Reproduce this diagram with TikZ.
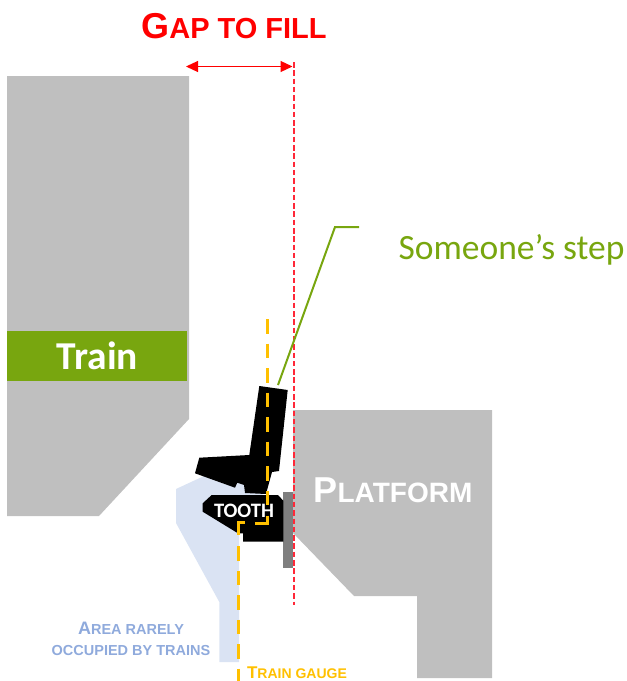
\documentclass[tikz,border=0pt]{standalone}
\usepackage{fontspec}
\setmainfont{Carlito}
\newfontfamily\capsfont{Liberation Sans}
\usetikzlibrary{arrows.meta}
\definecolor{shell}{HTML}{BFBFBF}
\definecolor{trainGreen}{HTML}{78A60F}
\definecolor{softBlue}{HTML}{DAE3F3}
\definecolor{labelBlue}{HTML}{8FAADC}
\definecolor{gauge}{HTML}{FFC000}
\definecolor{barGrey}{HTML}{7F7F7F}
\definecolor{edgeRose}{HTML}{FF2838}
\newcommand{\fcaps}[4]{{\capsfont\bfseries\fontsize{#1}{#1}\selectfont #3\fontsize{#2}{#2}\selectfont #4}}
\tikzset{
  solidpart/.style={fill=shell,draw=none},
  blackpart/.style={fill=black,draw=none},
  gaugedash/.style={draw=gauge,line width=3pt,dash pattern=on 14.5pt off 10pt},
  gaugesolid/.style={draw=gauge,line width=3pt},
  edgeguide/.style={draw=edgeRose,line width=2pt,dash pattern=on 5.5pt off 2.8pt},
  gaparrow/.style={draw=red,line width=1.2pt,{Triangle[length=12pt,width=11pt]}-{Triangle[length=12pt,width=11pt]}},
  leader/.style={draw=trainGreen,line width=2pt},
  lbl/.style={inner sep=0pt,align=center,font=\bfseries}
}
\begin{document}
\begin{tikzpicture}[x=1pt,y=-1pt]
\useasboundingbox (0,0) rectangle (627,681);
% train and platform
\fill[solidpart] (7,76) -- (189,76) -- (189,419) -- (99,516) -- (7,516) -- cycle;
\fill[trainGreen] (7,331) rectangle (187,381);
\fill[solidpart] (293,410) -- (492,410) -- (492,678) -- (417,678) -- (417,596) -- (354,596) -- (293,533) -- cycle;
% rarely occupied area
\fill[softBlue] (204,476) -- (176,489) -- (176,523) -- (219.3,602) -- (219.3,662) -- (239,662) -- (239,530) -- (262,496) -- (267,480) -- cycle;
% grey bar
\fill[barGrey] (283.3,492) rectangle (293,568);
% foot and tooth
\fill[blackpart] (259.3,386) -- (287.7,390) -- (279,471) -- (272,472) -- (266,494) -- (245,493) -- (244,485) -- (237.3,482.7) -- (235,487.7) -- (195,473.3) -- (199.3,457.7) -- (249.3,455) -- cycle;
\fill[blackpart] (211.7,495) -- (278,495) -- (283.3,500.7) -- (283.3,541.7) -- (243,541.7) -- (243,533.3) -- (238,533.3) -- (202.7,511.7) -- (202.7,503.3) -- cycle;
% connectors and guides
\coordinate (edgetop) at (294,62);
\coordinate (edgebot) at (294,605);
\coordinate (gapL) at (186,66.5);
\coordinate (gapR) at (292.5,66.5);
\coordinate (stepA) at (278,385);
\coordinate (stepB) at (335,227);
\coordinate (stepC) at (359,227);
\coordinate (gU) at (267.3,319);
\coordinate (gUm) at (267.3,505);
\coordinate (gUn) at (267.3,515.5);
\coordinate (gUc) at (267.3,523);
\coordinate (gUe) at (255,523);
\coordinate (gLs) at (244.5,522);
\coordinate (gLc) at (238.7,522);
\coordinate (gLd) at (238.7,535);
\coordinate (gLf) at (238.7,546);
\coordinate (gLe) at (238.7,681);
\draw[edgeguide] (edgetop) -- (edgebot);
\draw[gaparrow] (gapL) -- (gapR);
\draw[leader] (stepA) -- (stepB) -- (stepC);
\draw[gaugedash] (gU) -- (gUm);
\draw[gaugesolid] (gUn) -- (gUc) -- (gUe);
\draw[gaugesolid] (gLs) -- (gLc) -- (gLd);
\draw[gaugedash] (gLf) -- (gLe);
% texts
\node[lbl,text=white] (trainlbl) at (97.5,356) {\fontsize{39.5}{39.5}\selectfont Train};
\node[lbl,text=white] (platlbl) at (393,490.5) {\fcaps{36}{28}{P}{LATFORM}};
\node[lbl,text=white] (toothlbl) at (244,510.5) {\fontsize{20.5}{20.5}\selectfont TOOTH};
\node[lbl,text=red] (gaplbl) at (234,26) {\fcaps{36}{29}{G}{AP TO FILL}};
\node[inner sep=0pt,text=trainGreen] (steplbl) at (511.5,249.5) {\fontsize{35.5}{35.5}\selectfont Someone’s step};
\node[lbl,text=labelBlue] (arealbla) at (131,628) {\fcaps{18}{14.5}{A}{REA RARELY}};
\node[lbl,text=labelBlue] (arealblb) at (131,651) {\fcaps{14.5}{14.5}{}{OCCUPIED BY TRAINS}};
\node[lbl,text=gauge] (gaugelbl) at (297,672.5) {\fcaps{17}{14}{T}{RAIN GAUGE}};
\end{tikzpicture}
\end{document}
